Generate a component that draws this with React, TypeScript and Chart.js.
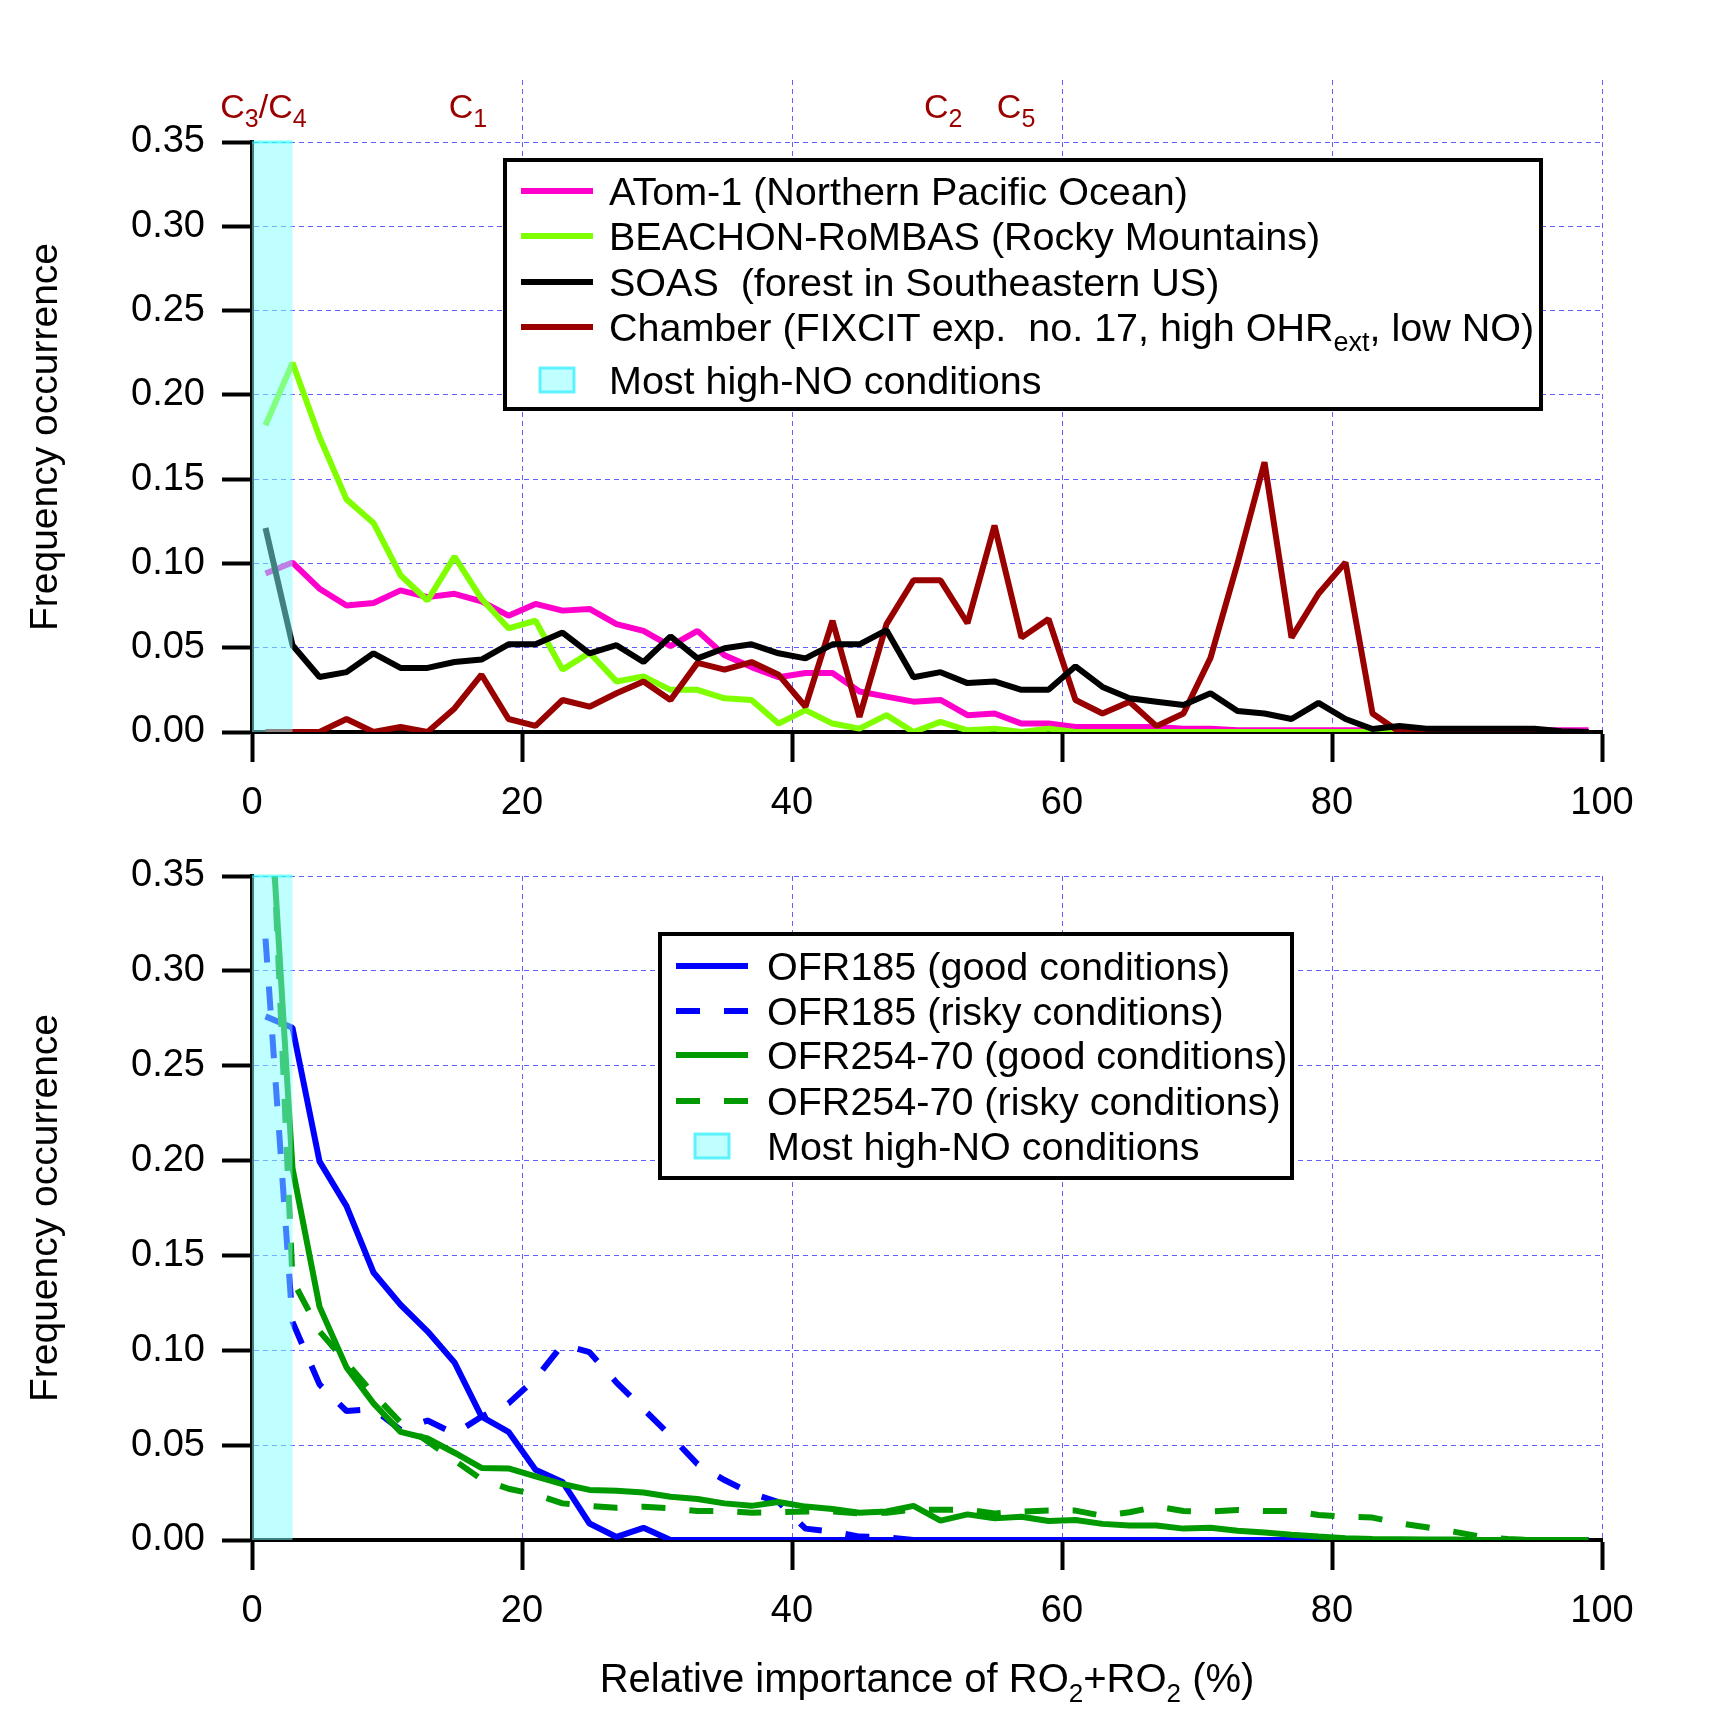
import { useEffect, useRef } from 'react'
import Chart from 'chart.js/auto'

const FONT = "'Liberation Sans', Arial, sans-serif"
const GRID = 'rgba(80, 80, 255, 0.9)'

// bin centres of the relative-importance histogram (%)
const binCenters = [
  1, 3, 5, 7, 9, 11, 13, 15, 17, 19, 21, 23, 25, 27, 29, 31, 33, 35, 37, 39, 41, 43, 45, 47, 49,
  51, 53, 55, 57, 59, 61, 63, 65, 67, 69, 71, 73, 75, 77, 79, 81, 83, 85, 87, 89, 91, 93, 95, 97, 99,
]

// range of "most high-NO conditions"
const highNoRange = [0, 3]

// ---- top panel: field campaigns + chamber ----
const atom = [
  0.094, 0.1005, 0.085, 0.075, 0.0765, 0.084, 0.08, 0.082, 0.0775, 0.069, 0.076, 0.072, 0.073, 0.064, 0.06,
  0.051, 0.06, 0.0455, 0.0385, 0.0325, 0.035, 0.035, 0.024, 0.021, 0.018, 0.019, 0.01, 0.011, 0.005, 0.005,
  0.003, 0.003, 0.003, 0.003, 0.002, 0.002, 0.001, 0.001, 0.001, 0.001, 0.001, 0.001, 0.001, 0.001, 0.001,
  0.001, 0.001, 0.001, 0.001, 0.001,
]
const beachon = [
  0.182, 0.219, 0.175, 0.138, 0.124, 0.093, 0.078, 0.104, 0.079, 0.0615, 0.066, 0.037, 0.047, 0.03, 0.033,
  0.025, 0.025, 0.02, 0.019, 0.005, 0.013, 0.005, 0.002, 0.01, 0.0, 0.006, 0.001, 0.002, 0.0, 0.002,
  0, 0, 0, 0, 0, 0, 0, 0, 0, 0, 0, 0, 0,
]
const soas = [
  0.121, 0.0515, 0.0326, 0.0355, 0.0467, 0.038, 0.038, 0.0415, 0.043, 0.052, 0.052, 0.059, 0.0467, 0.0515,
  0.0415, 0.0567, 0.0437, 0.0497, 0.052, 0.0467, 0.0437, 0.052, 0.052, 0.0604, 0.0325, 0.0355, 0.029, 0.03,
  0.025, 0.025, 0.039, 0.0267, 0.02, 0.018, 0.016, 0.023, 0.0124, 0.011, 0.0077, 0.0173, 0.0077, 0.0018,
  0.0035, 0.002, 0.002, 0.002, 0.002, 0.002, 0.0005, 0,
]
const chamber = [
  0, 0, 0, 0.0077, 0, 0.003, 0, 0.014, 0.034, 0.0077, 0.0036, 0.019, 0.015, 0.023, 0.03, 0.019, 0.041,
  0.037, 0.0415, 0.034, 0.015, 0.066, 0.009, 0.064, 0.09, 0.09, 0.0645, 0.1225, 0.056, 0.067, 0.019, 0.011,
  0.018, 0.0035, 0.011, 0.044, 0.1, 0.16, 0.056, 0.082, 0.1006, 0.011, 0, 0, 0, 0, 0, 0, 0, 0,
]

// ---- bottom panel: oxidation flow reactors ----
const ofr185Good = [
  0.276, 0.27, 0.1996, 0.176, 0.141, 0.124, 0.11, 0.0936, 0.065, 0.057, 0.037, 0.0306, 0.0087, 0.0016, 0.0064,
  0, 0, 0, 0, 0, 0, 0, 0, 0, 0, 0, 0, 0, 0, 0, 0, 0, 0, 0, 0, 0, 0, 0, 0, 0, 0, 0, 0, 0, 0, 0, 0, 0, 0, 0,
]
const ofr185Risky = [
  0.317, 0.115, 0.082, 0.068, 0.069, 0.058, 0.063, 0.056, 0.065, 0.072, 0.085, 0.103, 0.099, 0.083, 0.069,
  0.055, 0.04, 0.0316, 0.0246, 0.02, 0.006, 0.0044, 0.0018, 0.0014, 0, 0, 0, 0, 0, 0, 0, 0, 0, 0, 0, 0, 0,
  0, 0, 0, 0, 0, 0, 0, 0, 0, 0, 0, 0, 0,
]
const ofr254Good = [
  0.43, 0.196, 0.123, 0.091, 0.072, 0.057, 0.0535, 0.046, 0.038, 0.0377, 0.0335, 0.0295, 0.0264, 0.026, 0.025,
  0.0228, 0.0216, 0.0193, 0.018, 0.02, 0.0176, 0.0163, 0.0144, 0.015, 0.018, 0.0102, 0.0135, 0.0114, 0.0123,
  0.01, 0.0105, 0.0085, 0.0076, 0.0076, 0.006, 0.0065, 0.0049, 0.0039, 0.0028, 0.0018, 0.0009, 0.0005,
  0.0004, 0.0003, 0.0002, 0, 0, 0, 0, 0,
]
const ofr254Risky = [
  0.46, 0.137, 0.11, 0.0935, 0.077, 0.062, 0.052, 0.042, 0.032, 0.027, 0.024, 0.0193, 0.018, 0.017, 0.0175,
  0.0167, 0.0153, 0.0153, 0.0144, 0.0146, 0.015, 0.015, 0.014, 0.0144, 0.016, 0.016, 0.016, 0.014, 0.015,
  0.0155, 0.0155, 0.0127, 0.0146, 0.0176, 0.0153, 0.015, 0.0158, 0.0153, 0.0153, 0.0132, 0.0123, 0.0118,
  0.0088, 0.0067, 0.0044, 0.0018, 0.0005, 0, 0, 0,
]

const xTicks = [0, 20, 40, 60, 80, 100]
const yTicks = [0, 0.05, 0.1, 0.15, 0.2, 0.25, 0.3, 0.35]

type Part = { t: string; sub?: boolean }

// species markers above the top panel (x in % units)
const topMarkers: { parts: Part[]; x: number }[] = [
  { parts: [{ t: 'C' }, { t: '3', sub: true }, { t: '/C' }, { t: '4', sub: true }], x: 0.85 },
  { parts: [{ t: 'C' }, { t: '1', sub: true }], x: 16.0 },
  { parts: [{ t: 'C' }, { t: '2', sub: true }], x: 51.2 },
  { parts: [{ t: 'C' }, { t: '5', sub: true }], x: 56.6 },
]

const topNames: Part[][] = [
  [{ t: 'ATom-1 (Northern Pacific Ocean)' }],
  [{ t: 'BEACHON-RoMBAS (Rocky Mountains)' }],
  [{ t: 'SOAS  (forest in Southeastern US)' }],
  [{ t: 'Chamber (FIXCIT exp.  no. 17, high OHR' }, { t: 'ext', sub: true }, { t: ', low NO)' }],
  [{ t: 'Most high-NO conditions' }],
]
const bottomNames: Part[][] = [
  [{ t: 'OFR185 (good conditions)' }],
  [{ t: 'OFR185 (risky conditions)' }],
  [{ t: 'OFR254-70 (good conditions)' }],
  [{ t: 'OFR254-70 (risky conditions)' }],
  [{ t: 'Most high-NO conditions' }],
]
const xTitle: Part[] = [
  { t: 'Relative importance of RO' }, { t: '2', sub: true }, { t: '+RO' }, { t: '2', sub: true }, { t: ' (%)' },
]

const DASH = [24, 24]
const LINE_W = 6

function drawParts(
  ctx: CanvasRenderingContext2D, parts: Part[], x: number, y: number,
  size: number, subSize: number, drop: number, align: 'left' | 'center',
) {
  const main = `${size}px ${FONT}`
  const small = `${subSize}px ${FONT}`
  let total = 0
  parts.forEach((p) => {
    ctx.font = p.sub ? small : main
    total += ctx.measureText(p.t).width
  })
  let cx = align === 'center' ? x - total / 2 : x
  ctx.textAlign = 'left'
  ctx.textBaseline = 'alphabetic'
  parts.forEach((p) => {
    ctx.font = p.sub ? small : main
    ctx.fillText(p.t, cx, p.sub ? y + drop : y)
    cx += ctx.measureText(p.t).width
  })
}

const points = (values: number[]) => values.map((y, i) => ({ x: binCenters[i], y }))

function series(label: string, values: number[], color: string, order: number, dash?: number[]) {
  return {
    label,
    data: points(values),
    borderColor: color,
    backgroundColor: color,
    borderWidth: LINE_W,
    borderDash: dash || [],
    borderJoinStyle: 'bevel',
    borderCapStyle: 'butt',
    pointRadius: 0,
    tension: 0,
    fill: false,
    order,
  }
}

type LegendRow = { parts: Part[]; color?: string; dash?: number[]; band?: boolean; y: number }

function legendPlugin(box: { l: number; t: number; r: number; b: number }, rows: LegendRow[], lineX: [number, number], textX: number) {
  return {
    id: 'boxedLegend',
    afterDraw: (chart: any) => {
      const ctx = chart.ctx as CanvasRenderingContext2D
      ctx.save()
      ctx.fillStyle = '#fff'
      ctx.fillRect(box.l, box.t, box.r - box.l, box.b - box.t)
      ctx.strokeStyle = '#000'
      ctx.lineWidth = 4
      ctx.strokeRect(box.l, box.t, box.r - box.l, box.b - box.t)
      rows.forEach((row) => {
        if (row.band) {
          const w = 34
          const h = 24
          const cx = (lineX[0] + lineX[1]) / 2
          ctx.fillStyle = 'rgba(128,255,255,0.5)'
          ctx.fillRect(cx - w / 2, row.y - h / 2, w, h)
          ctx.strokeStyle = 'rgba(60,240,255,0.8)'
          ctx.lineWidth = 3
          ctx.setLineDash([])
          ctx.strokeRect(cx - w / 2, row.y - h / 2, w, h)
        } else {
          ctx.strokeStyle = row.color || '#000'
          ctx.lineWidth = LINE_W
          ctx.setLineDash(row.dash || [])
          ctx.beginPath()
          ctx.moveTo(lineX[0], row.y)
          ctx.lineTo(lineX[1], row.y)
          ctx.stroke()
          ctx.setLineDash([])
        }
        ctx.fillStyle = '#000'
        drawParts(ctx, row.parts, textX, row.y + 14, 39.5, 27, 10, 'left')
      })
      ctx.restore()
    },
  }
}

const bandPlugin = {
  id: 'highNoBand',
  afterDatasetsDraw: (chart: any) => {
    const { ctx, chartArea, scales } = chart
    const x0 = scales.x.getPixelForValue(highNoRange[0])
    const x1 = scales.x.getPixelForValue(highNoRange[1])
    ctx.save()
    ctx.fillStyle = 'rgba(128,255,255,0.5)'
    ctx.fillRect(x0, chartArea.top, x1 - x0, chartArea.bottom - chartArea.top)
    ctx.strokeStyle = 'rgba(0,255,255,0.5)'
    ctx.lineWidth = 3
    ctx.beginPath()
    ctx.moveTo(x0, chartArea.top)
    ctx.lineTo(x1, chartArea.top)
    ctx.stroke()
    ctx.restore()
  },
}

function baseOptions(padTop: number, xAxisHeight: number) {
  const tickFont = { family: FONT, size: 38 }
  const grid = { color: GRID, lineWidth: 1, tickLength: 30, tickWidth: 4, tickColor: '#000' }
  const border = { color: '#000', width: 4, dash: [5, 4] }
  return {
    animation: false,
    responsive: true,
    maintainAspectRatio: false,
    events: [],
    layout: { padding: { left: 0, right: 122, top: padTop, bottom: 0 } },
    plugins: { legend: { display: false }, tooltip: { enabled: false }, title: { display: false } },
    scales: {
      x: {
        type: 'linear',
        min: xTicks[0],
        max: xTicks[xTicks.length - 1],
        afterFit: (s: any) => { s.height = xAxisHeight },
        afterBuildTicks: (s: any) => { s.ticks = xTicks.map((v) => ({ value: v })) },
        ticks: { color: '#000', font: tickFont, padding: 19, maxRotation: 0, autoSkip: false },
        grid,
        border,
      },
      y: {
        type: 'linear',
        min: yTicks[0],
        max: yTicks[yTicks.length - 1],
        afterFit: (s: any) => { s.width = 252 },
        afterBuildTicks: (s: any) => { s.ticks = yTicks.map((v) => ({ value: v })) },
        ticks: {
          color: '#000', font: tickFont, padding: 17, autoSkip: false,
          callback: (v: any) => Number(v).toFixed(2),
        },
        grid,
        border,
        title: {
          display: true, text: 'Frequency occurrence', color: '#000',
          font: { family: FONT, size: 39 }, padding: { top: 23, bottom: 0 },
        },
      },
    },
  }
}

function TopPanel() {
  const ref = useRef<HTMLCanvasElement>(null)
  useEffect(() => {
    if (!ref.current) return
    const markers = {
      id: 'topMarkers',
      afterDraw: (chart: any) => {
        const { ctx, scales, chartArea } = chart
        ctx.save()
        // grid lines of the upper (marker) axis continue above the plot
        ctx.strokeStyle = GRID
        ctx.lineWidth = 1
        ctx.setLineDash([5, 4])
        xTicks.slice(1).forEach((v) => {
          const px = Math.round(scales.x.getPixelForValue(v)) + 0.5
          ctx.beginPath()
          ctx.moveTo(px, 80)
          ctx.lineTo(px, chartArea.top)
          ctx.stroke()
        })
        ctx.setLineDash([])
        ctx.fillStyle = '#9b0000'
        topMarkers.forEach((m) => {
          drawParts(ctx, m.parts, scales.x.getPixelForValue(m.x), 118, 34, 25, 9, 'center')
        })
        ctx.restore()
      },
    }
    const rows: LegendRow[] = [
      { parts: topNames[0], color: '#ff00cc', y: 191 },
      { parts: topNames[1], color: '#80ff00', y: 236 },
      { parts: topNames[2], color: '#000000', y: 282 },
      { parts: topNames[3], color: '#990000', y: 327 },
      { parts: topNames[4], band: true, y: 380 },
    ]
    const chart = new Chart(ref.current, {
      type: 'line',
      data: {
        datasets: [
          series('ATom-1', atom, '#ff00cc', 3),
          series('BEACHON-RoMBAS', beachon, '#80ff00', 2),
          series('SOAS', soas, '#000000', 0),
          series('Chamber', chamber, '#990000', 1),
        ] as any,
      },
      options: baseOptions(142, 118) as any,
      plugins: [bandPlugin, markers, legendPlugin({ l: 505, t: 160, r: 1541, b: 409 }, rows, [521, 593], 609)],
    })
    return () => chart.destroy()
  }, [])
  return (
    <div style={{ position: 'absolute', left: 0, top: 0, width: 1724, height: 850 }}>
      <canvas ref={ref} />
    </div>
  )
}

function BottomPanel() {
  const ref = useRef<HTMLCanvasElement>(null)
  useEffect(() => {
    if (!ref.current) return
    const title = {
      id: 'xTitle',
      afterDraw: (chart: any) => {
        const { ctx, chartArea } = chart
        ctx.save()
        ctx.fillStyle = '#000'
        drawParts(ctx, xTitle, (chartArea.left + chartArea.right) / 2, 902, 40, 26, 10, 'center')
        ctx.restore()
      },
    }
    const rows: LegendRow[] = [
      { parts: bottomNames[0], color: '#0000ff', y: 176 },
      { parts: bottomNames[1], color: '#0000ff', dash: DASH, y: 221 },
      { parts: bottomNames[2], color: '#009900', y: 265 },
      { parts: bottomNames[3], color: '#009900', dash: DASH, y: 311 },
      { parts: bottomNames[4], band: true, y: 356 },
    ]
    const chart = new Chart(ref.current, {
      type: 'line',
      data: {
        datasets: [
          series('OFR185 (good conditions)', ofr185Good, '#0000ff', 2),
          series('OFR185 (risky conditions)', ofr185Risky, '#0000ff', 3, DASH),
          series('OFR254-70 (good conditions)', ofr254Good, '#009900', 0),
          series('OFR254-70 (risky conditions)', ofr254Risky, '#009900', 1, DASH),
        ] as any,
      },
      options: baseOptions(86, 192) as any,
      plugins: [bandPlugin, title, legendPlugin({ l: 660, t: 144, r: 1292, b: 388 }, rows, [676, 748], 767)],
    })
    return () => chart.destroy()
  }, [])
  return (
    <div style={{ position: 'absolute', left: 0, top: 790, width: 1724, height: 942 }}>
      <canvas ref={ref} />
    </div>
  )
}

export default function App() {
  return (
    <div style={{ position: 'absolute', left: 0, top: 0, width: 1724, height: 1732, overflow: 'hidden', background: '#fff' }}>
      <TopPanel />
      <BottomPanel />
    </div>
  )
}
